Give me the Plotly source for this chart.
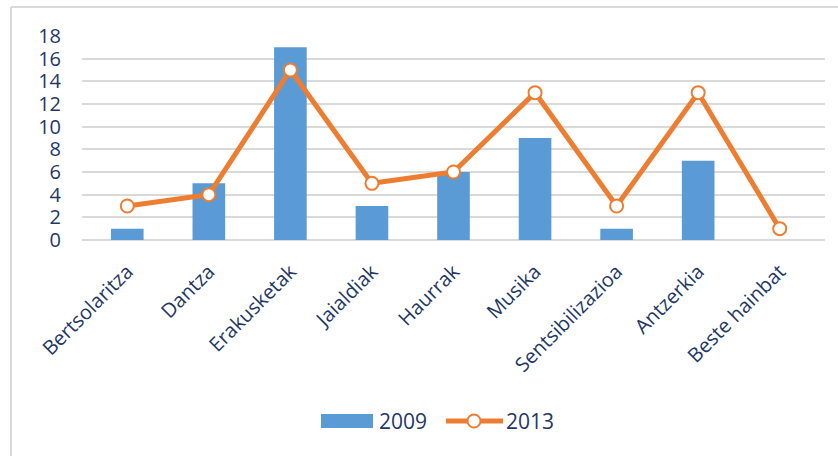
import plotly.graph_objects as go

categories = ["Bertsolaritza", "Dantza", "Erakusketak", "Jaialdiak", "Haurrak",
              "Musika", "Sentsibilizazioa", "Antzerkia", "Beste hainbat"]
values_2009 = [1, 5, 17, 3, 6, 9, 1, 7, 0]
values_2013 = [3, 4, 15, 5, 6, 13, 3, 13, 1]
y_ticks = [0, 2, 4, 6, 8, 10, 12, 14, 16, 18]
series_names = ["2009", "2013"]

FONT = "Open Sans"
TXT = "#1F3864"
BLUE = "#5B9BD5"
ORANGE = "#ED7D31"
W, H = 838, 456
L, R, T, B = 82, 13, 36, 216
pw, ph = W - L - R, H - T - B

fig = go.Figure()
fig.add_trace(go.Bar(x=categories, y=values_2009, name=series_names[0],
                     marker=dict(color=BLUE, line=dict(width=0))))
fig.add_trace(go.Scatter(x=categories, y=values_2013, name=series_names[1], mode="lines+markers",
                         line=dict(color=ORANGE, width=5),
                         marker=dict(symbol="circle", size=13, color="white",
                                     line=dict(color=ORANGE, width=2))))

def px_x(x):
    return (x - L) / pw

def px_y(y):
    return (H - B - y) / ph

shapes = [
    dict(type="line", xref="paper", yref="paper", x0=px_x(11), x1=px_x(W + 5),
         y0=px_y(7), y1=px_y(7), line=dict(color="#D9D9D9", width=2)),
    dict(type="line", xref="paper", yref="paper", x0=px_x(11), x1=px_x(11),
         y0=px_y(7), y1=px_y(H + 5), line=dict(color="#D9D9D9", width=2)),
    # custom legend symbols
    dict(type="rect", xref="paper", yref="paper", x0=px_x(321), x1=px_x(373),
         y0=px_y(428), y1=px_y(414), fillcolor=BLUE, line=dict(width=0)),
    dict(type="line", xref="paper", yref="paper", x0=px_x(446), x1=px_x(503),
         y0=px_y(421), y1=px_y(421), line=dict(color=ORANGE, width=5)),
    dict(type="circle", xref="paper", yref="paper", x0=px_x(467.5), x1=px_x(480.5),
         y0=px_y(427.5), y1=px_y(414.5), fillcolor="white", line=dict(color=ORANGE, width=2)),
]

annotations = [
    dict(text=series_names[0], xref="paper", yref="paper", x=px_x(377), y=px_y(421),
         xanchor="left", yanchor="middle", showarrow=False, font=dict(size=21, color=TXT)),
    dict(text=series_names[1], xref="paper", yref="paper", x=px_x(504), y=px_y(421),
         xanchor="left", yanchor="middle", showarrow=False, font=dict(size=21, color=TXT)),
]

fig.update_layout(
    width=W, height=H,
    margin=dict(l=L, r=R, t=T, b=B, autoexpand=False),
    paper_bgcolor="white", plot_bgcolor="white",
    bargap=0.6,
    font=dict(family=FONT, color=TXT, size=20),
    showlegend=False,
    xaxis=dict(showgrid=False, zeroline=False, showline=False, tickangle=-45,
               automargin=False, ticklabelstandoff=15, tickfont=dict(size=20, color=TXT)),
    yaxis=dict(range=[0, 18], tickvals=y_ticks, showgrid=True, gridcolor="#D9D9D9",
               gridwidth=1.5, zeroline=True, zerolinecolor="#D9D9D9", zerolinewidth=1.5,
               automargin=False, showline=False, ticklabelstandoff=20,
               tickfont=dict(size=20, color=TXT)),
    shapes=shapes,
    annotations=annotations,
)

fig.write_html("out.html", config={"displayModeBar": False},
               post_script="document.body.style.margin='0';")
